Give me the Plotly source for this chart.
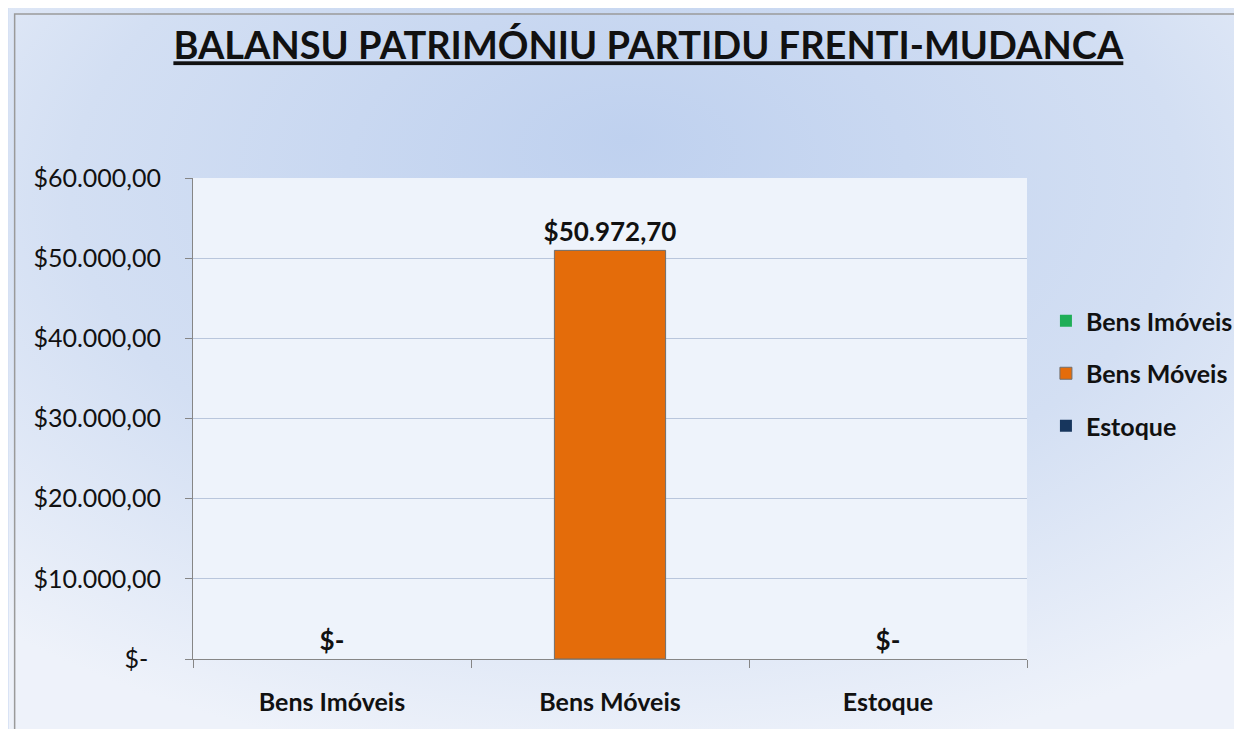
import base64
import plotly.graph_objects as go

categories = ["Bens Imóveis", "Bens Móveis", "Estoque"]
values = [0, 50972.70, 0]
colors = ["#1fae57", "#e46c0a", "#17365d"]
ytick_vals = [0, 10000, 20000, 30000, 40000, 50000, 60000]


def fmt(v):
    if v == 0:
        return "$-"
    s = f"{v:,.2f}"
    s = s.replace(",", "X").replace(".", ",").replace("X", ".")
    return "$" + s


W, H = 1242, 729
L, R, T, B = 185, 220, 170, 78
pw, ph = W - L - R, H - T - B

FONT = "Lato"

fig = go.Figure()
for cat, val, col in zip(categories, values, colors):
    fig.add_trace(go.Bar(
        x=[cat], y=[val], name=cat,
        marker=dict(color=col, line=dict(color="#6f6f6f", width=1 if val > 0 else 0)),
        width=0.4,
        text=[fmt(val)], textposition="outside", cliponaxis=False,
        constraintext="none",
        textfont=dict(family=FONT, size=26, color="#111111", weight="bold"),
        legendgroup=cat,
    ))

svg = (
    '<svg xmlns="http://www.w3.org/2000/svg" width="1242" height="729" viewBox="0 0 1242 729" preserveAspectRatio="none">'
    '<defs><radialGradient id="g" cx="50%" cy="30%" r="75%" fx="50%" fy="18%">'
    '<stop offset="0%" stop-color="#bfd1ef"/>'
    '<stop offset="60%" stop-color="#d3dff3"/>'
    '<stop offset="100%" stop-color="#eef2fa"/>'
    '</radialGradient></defs>'
    '<rect width="1242" height="729" fill="url(#g)"/></svg>'
)
src = "data:image/svg+xml;base64," + base64.b64encode(svg.encode()).decode()

ytext = [fmt(v) + ("\u00a0\u00a0" if v == 0 else "") for v in ytick_vals]

fig.update_layout(
    width=W, height=H,
    margin=dict(l=L, r=R, t=T, b=B),
    paper_bgcolor="#d6e1f4",
    plot_bgcolor="#eef3fb",
    barmode="overlay",
    title=dict(
        text="<u>BALANSU PATRIMÓNIU PARTIDU FRENTI-MUDANCA</u>",
        xref="paper", x=(642 - L) / pw, xanchor="center",
        yref="container", y=1 - 38 / H, yanchor="middle",
        font=dict(family=FONT, size=38, color="#111111", weight="bold"),
    ),
    font=dict(family=FONT, color="#111111"),
    legend=dict(
        x=(1041 - L) / pw, xanchor="left",
        y=(H - B - 290) / ph, yanchor="top",
        font=dict(family=FONT, size=25, color="#111111", weight="bold"),
        bgcolor="rgba(0,0,0,0)",
        tracegroupgap=17,
    ),
    xaxis=dict(
        type="category",
        showline=True, linecolor="#868686", linewidth=1,
        ticks="outside", tickson="boundaries", ticklen=8, tickcolor="#868686",
        tickfont=dict(family=FONT, size=25, color="#111111", weight="bold"),
        ticklabelstandoff=21,
        showgrid=False,
    ),
    yaxis=dict(
        range=[0, 60000],
        tickvals=ytick_vals,
        ticktext=ytext,
        showline=True, linecolor="#868686", linewidth=1,
        ticks="outside", ticklen=7, tickcolor="#868686",
        showgrid=True, gridcolor="#b9c6dc", gridwidth=1,
        tickfont=dict(family=FONT, size=25, color="#111111"),
        ticklabelstandoff=19,
        zeroline=False,
    ),
    images=[dict(
        source=src, xref="paper", yref="paper",
        x=-L / pw, y=1 + T / ph, sizex=W / pw, sizey=H / ph,
        xanchor="left", yanchor="top", sizing="stretch", layer="below",
    )],
    shapes=[
        dict(
            type="rect", xref="paper", yref="paper",
            x0=0, x1=1, y0=0, y1=1,
            line=dict(width=0), fillcolor="#eef3fb", layer="below",
        ),
        dict(
            type="rect", xref="paper", yref="paper",
            x0=(6 - L) / pw, x1=(W + 10 - L) / pw,
            y0=(H - B - (H + 10)) / ph, y1=(H - B - 6) / ph,
            line=dict(color="#9a9a9a", width=1.5), fillcolor="rgba(0,0,0,0)",
            layer="below",
        ),
    ],
)

fig.write_html("out.html")
